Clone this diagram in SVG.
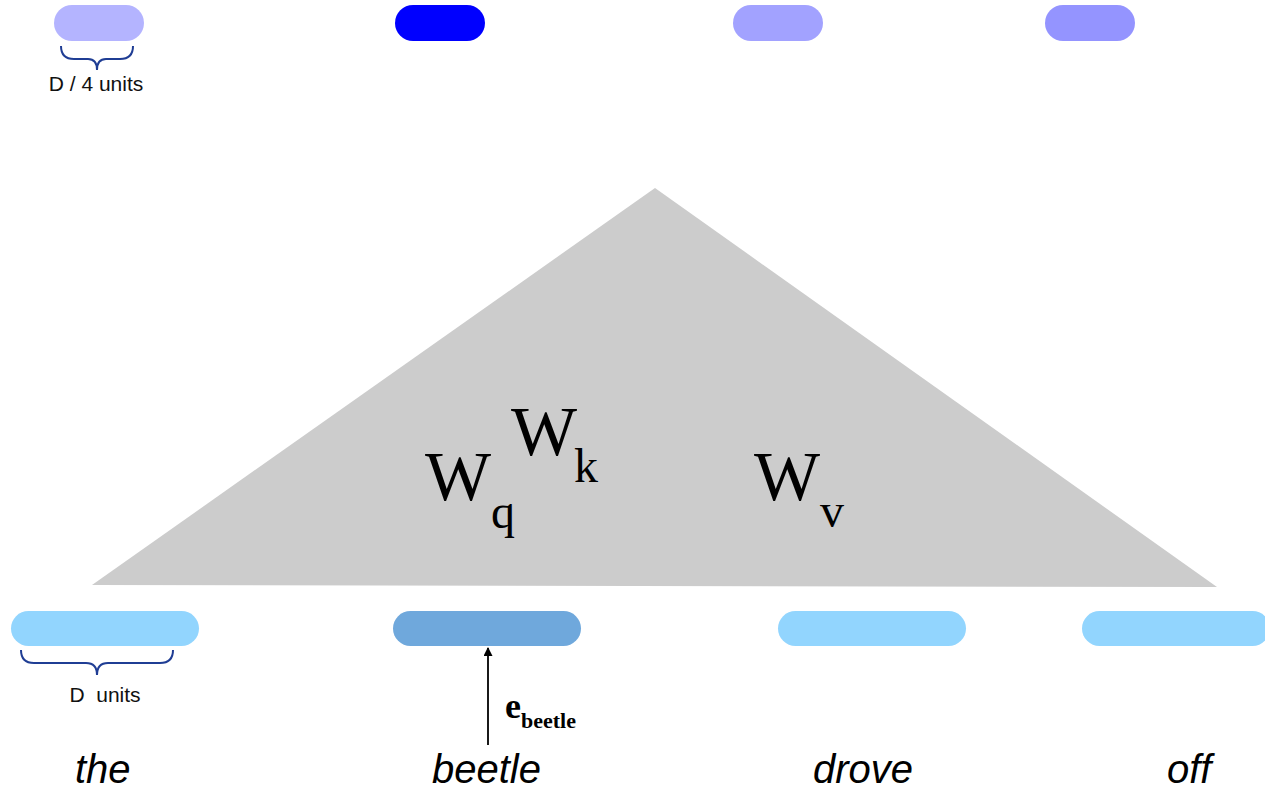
<svg xmlns="http://www.w3.org/2000/svg" width="1265" height="793" viewBox="0 0 1265 793">
<defs>
<style>
.brace{fill:none;stroke:#1f3d94;stroke-width:2}
.lbl{font-family:"Liberation Sans",Arial,sans-serif;font-size:21px;fill:#111;white-space:pre}
.word{font-family:"Liberation Sans",Arial,sans-serif;font-size:40px;font-style:italic;fill:#000}
.mat{font-family:"Liberation Serif","Times New Roman",serif;fill:#000}
.big{font-size:70px}
.sub{font-size:48px}
</style>
<marker id="arr" viewBox="0 0 10 10" refX="9" refY="5" markerWidth="12" markerHeight="9" markerUnits="userSpaceOnUse" orient="auto">
<path d="M0,0 L10,5 L0,10 Z" fill="#000"/>
</marker>
</defs>
<rect width="1265" height="793" fill="#fff"/>
<g id="transformer">
<polygon points="655,188 92,585 1217,587" fill="#cccccc"/>
<text class="mat big" x="425" y="500">W</text>
<text class="mat sub" x="491" y="528">q</text>
<text class="mat big" x="511" y="455">W</text>
<text class="mat sub" x="574" y="482">k</text>
<text class="mat big" x="754" y="500">W</text>
<text class="mat sub" x="820" y="527">v</text>
</g>
<g id="head1"><rect x="54" y="5" width="90" height="36" rx="18" fill="#b4b4ff"/></g>
<g id="head2"><rect x="395" y="5" width="90" height="36" rx="18" fill="#0000ff"/></g>
<g id="head3"><rect x="733" y="5" width="90" height="36" rx="18" fill="#a2a2ff"/></g>
<g id="head4"><rect x="1045" y="5" width="90" height="36" rx="18" fill="#9494ff"/></g>
<g id="head-brace">
<path class="brace" d="M61,46 Q61,59 74,59 L88,59 Q97,59 97,70 Q97,59 106,59 L120,59 Q133,59 133,46"/>
<text class="lbl" x="96" y="91" text-anchor="middle">D / 4 units</text>
</g>
<g id="emb-the"><rect x="11" y="611" width="188" height="35" rx="17.5" fill="#92d5fe"/></g>
<g id="emb-beetle"><rect x="393" y="611" width="188" height="35" rx="17.5" fill="#6fa8dc"/></g>
<g id="emb-drove"><rect x="778" y="611" width="188" height="35" rx="17.5" fill="#92d5fe"/></g>
<g id="emb-off"><rect x="1082" y="611" width="188" height="35" rx="17.5" fill="#92d5fe"/></g>
<g id="emb-brace">
<path class="brace" d="M21,650 Q21,663 34,663 L86,663 Q97,663 97,675 Q97,663 108,663 L160,663 Q173,663 173,650"/>
<text class="lbl" x="105" y="702" text-anchor="middle">D  units</text>
</g>
<g id="connectors">
<line x1="488" y1="745" x2="488" y2="648" stroke="#000" stroke-width="1.8" marker-end="url(#arr)"/>
</g>
<g id="e-label">
<text class="mat" x="505" y="718" font-size="36" font-weight="bold">e</text>
<text class="mat" x="521" y="728" font-size="22" font-weight="bold">beetle</text>
</g>
<g id="words">
<text class="word" x="75" y="783">the</text>
<text class="word" x="432" y="783">beetle</text>
<text class="word" x="813" y="783">drove</text>
<text class="word" x="1167" y="783">off</text>
</g>
</svg>
